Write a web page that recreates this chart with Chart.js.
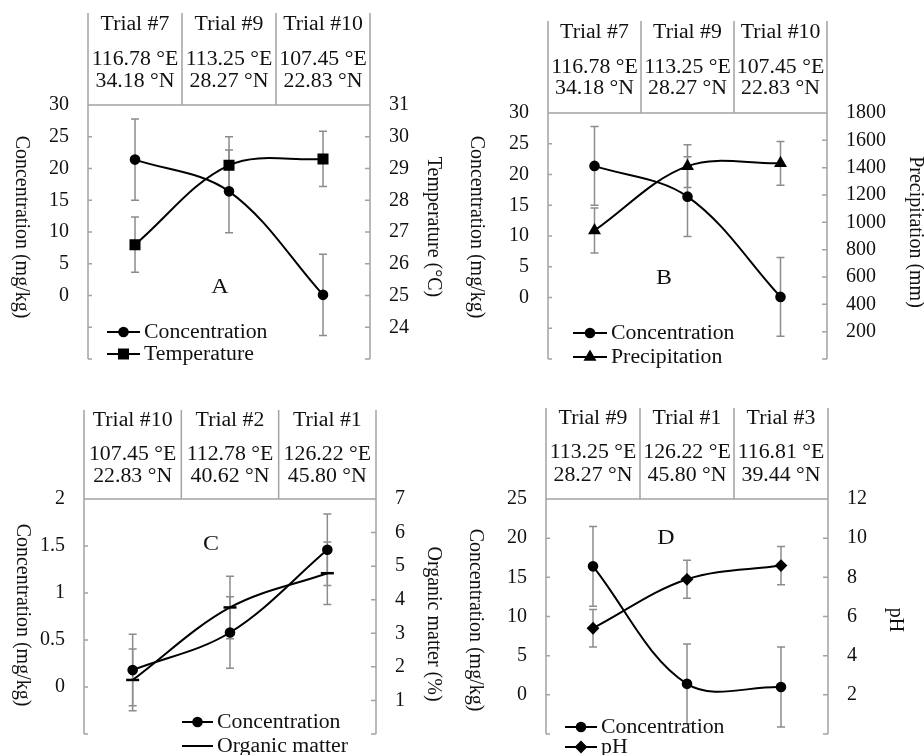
<!DOCTYPE html>
<html>
<head>
<meta charset="utf-8">
<script src="https://cdn.jsdelivr.net/npm/chart.js@4.4.1/dist/chart.umd.min.js"></script>
<style>
  html, body { margin: 0; padding: 0; background: #fff; overflow: hidden; }
  body { width: 924px; height: 755px; position: relative; }
  canvas { position: absolute; }
</style>
</head>
<body>
<canvas id="panel-a" width="460" height="390" style="left:0;top:0"></canvas>
<canvas id="panel-b" width="464" height="390" style="left:460px;top:0"></canvas>
<canvas id="panel-c" width="460" height="375" style="left:0;top:390px"></canvas>
<canvas id="panel-d" width="464" height="375" style="left:460px;top:390px"></canvas>
<script>
// --- data ---
const trialsAB = ['Trial #7', 'Trial #9', 'Trial #10'];
const eastAB = ['116.78 °E', '113.25 °E', '107.45 °E'];
const northAB = ['34.18 °N', '28.27 °N', '22.83 °N'];

const concA = [21.4, 16.4, 0.1];
const concErrA = [6.4, 6.5, 6.4];
const tempA = [26.6, 29.1, 29.3];
const tempErrA = [0.87, 0.9, 0.87];

const concB = [21.4, 16.4, 0.1];
const concErrB = [6.4, 6.5, 6.4];
const precipB = [940, 1411, 1432];
const precipErrB = [165, 157, 160];

const trialsC = ['Trial #10', 'Trial #2', 'Trial #1'];
const eastC = ['107.45 °E', '112.78 °E', '126.22 °E'];
const northC = ['22.83 °N', '40.62 °N', '45.80 °N'];
const concC = [0.18, 0.58, 1.46];
const concErrC = [0.38, 0.38, 0.38];
const organicC = [1.61, 3.77, 4.79];
const organicErrC = [0.92, 0.93, 0.93];

const trialsD = ['Trial #9', 'Trial #1', 'Trial #3'];
const eastD = ['113.25 °E', '126.22 °E', '116.81 °E'];
const northD = ['28.27 °N', '45.80 °N', '39.44 °N'];
const concD = [16.4, 1.4, 1.0];
const concErrD = [5.1, 5.1, 5.1];
const phD = [5.4, 7.9, 8.6];
const phErrD = [0.96, 0.97, 0.98];

// tick labels that are printed (other ticks only get a mark)
const concTicksAB = [0, 5, 10, 15, 20, 25, 30];
const tempTicks = [24, 25, 26, 27, 28, 29, 30, 31];
const precipTicks = [200, 400, 600, 800, 1000, 1200, 1400, 1600, 1800];
const concTicksC = [0, 0.5, 1, 1.5, 2];
const organicTicks = [1, 2, 3, 4, 5, 6, 7];
const concTicksD = [0, 5, 10, 15, 20, 25];
const phTicks = [2, 4, 6, 8, 10, 12];

const FONT = "'Liberation Serif', 'Times New Roman', serif";
const FRAME = '#a3a3a3';
const ERRBAR = '#8c8c8c';
const STRETCH = 1.09;   // the scanned figure is a little wider than tall

// text drawn a bit wider, like the source
const wideText = (ctx, text, x, y) => {
    ctx.save();
    ctx.translate(x, y);
    ctx.scale(STRETCH, 1);
    ctx.fillText(text, 0, 0);
    ctx.restore();
};

const panelPlugin = {
    id: 'panel',
    beforeDatasetsDraw(chart, args, opts) {
        const ctx = chart.ctx;
        const x = chart.scales.x;
        ctx.save();
        ctx.strokeStyle = ERRBAR;
        ctx.lineWidth = 1.5;
        chart.data.datasets.forEach(ds => {
            const y = chart.scales[ds.yAxisID];
            ds.data.forEach((v, i) => {
                const px = x.getPixelForValue(i);
                const top = y.getPixelForValue(v + ds.err[i]);
                const bot = y.getPixelForValue(v - ds.err[i]);
                ctx.beginPath();
                ctx.moveTo(px, top); ctx.lineTo(px, bot);
                ctx.moveTo(px - 4, top); ctx.lineTo(px + 4, top);
                ctx.moveTo(px - 4, bot); ctx.lineTo(px + 4, bot);
                ctx.stroke();
            });
        });
        ctx.restore();
    },
    afterDraw(chart, args, opts) {
        const ctx = chart.ctx;
        const ca = chart.chartArea;
        const w = ca.right - ca.left;
        const headTop = ca.top - opts.head[0];
        ctx.save();

        // frame + header grid
        ctx.strokeStyle = FRAME;
        ctx.lineWidth = 1.5;
        ctx.beginPath();
        ctx.moveTo(ca.left, headTop); ctx.lineTo(ca.left, ca.bottom);
        ctx.moveTo(ca.right, headTop); ctx.lineTo(ca.right, ca.bottom);
        ctx.moveTo(ca.left, ca.top); ctx.lineTo(ca.right, ca.top);
        [1, 2].forEach(k => {
            ctx.moveTo(ca.left + w * k / 3, headTop);
            ctx.lineTo(ca.left + w * k / 3, ca.top);
        });
        // inward tick marks
        chart.scales.yL.ticks.forEach(t => {
            const py = chart.scales.yL.getPixelForValue(t.value);
            ctx.moveTo(ca.left, py); ctx.lineTo(ca.left + 4, py);
        });
        chart.scales.yR.ticks.forEach(t => {
            const py = chart.scales.yR.getPixelForValue(t.value);
            ctx.moveTo(ca.right - 5, py); ctx.lineTo(ca.right, py);
        });
        ctx.stroke();

        // header text
        ctx.fillStyle = '#111';
        ctx.textAlign = 'center';
        ctx.textBaseline = 'middle';
        ctx.font = `20px ${FONT}`;
        opts.trials.forEach((t, i) => {
            const cx = chart.scales.x.getPixelForValue(i);
            wideText(ctx, t, cx, ca.top - opts.head[1]);
            wideText(ctx, opts.east[i], cx, ca.top - opts.head[2]);
            wideText(ctx, opts.north[i], cx, ca.top - opts.head[3]);
        });

        // axis titles, both turned clockwise
        opts.titles.forEach(tt => {
            ctx.save();
            ctx.translate(tt.x, tt.y);
            ctx.rotate(Math.PI / 2);
            ctx.fillText(tt.text, 0, 0);
            ctx.restore();
        });

        // panel letter
        ctx.font = `22px ${FONT}`;
        wideText(ctx, opts.letter.text, opts.letter.x, opts.letter.y);

        // legend
        const lg = opts.legend;
        ctx.font = `20px ${FONT}`;
        ctx.textAlign = 'left';
        chart.data.datasets.forEach((ds, i) => {
            const ly = lg.rows[i];
            ctx.strokeStyle = '#000';
            ctx.lineWidth = 2;
            ctx.beginPath();
            ctx.moveTo(lg.x0, ly); ctx.lineTo(lg.x1, ly);
            ctx.stroke();
            ctx.fillStyle = '#000';
            Chart.helpers.drawPoint(ctx, {
                pointStyle: ds.pointStyle, radius: ds.pointRadius, rotation: 0, borderWidth: 2.5
            }, (lg.x0 + lg.x1) / 2, ly);
            ctx.fillStyle = '#111';
            wideText(ctx, ds.label, lg.x1 + 4, ly + 1);
        });
        ctx.restore();
    }
};

const makeSeries = (label, data, err, axis, style, radius) => ({
    label, data, err,
    yAxisID: axis,
    borderColor: '#000',
    backgroundColor: '#000',
    borderWidth: 2,
    tension: 0.35,
    pointStyle: style,
    pointRadius: radius,
    pointBorderWidth: style === 'line' ? 2.5 : 2,
    pointBackgroundColor: '#000',
    pointBorderColor: '#000'
});

const makeAxis = (pos, min, max, step, shown, width) => ({
    position: pos,
    min, max,
    afterFit: scale => { scale.width = width; },
    grid: { display: false, drawTicks: false },
    border: { display: false },
    ticks: {
        stepSize: step,
        autoSkip: false,
        padding: 19,
        color: '#111',
        font: { family: FONT, size: 20 },
        callback: v => shown.some(s => Math.abs(s - v) < 1e-6) ? String(v) : ''
    }
});

const makePanel = (id, p) => new Chart(document.getElementById(id), {
    type: 'line',
    data: {
        labels: p.trials,
        datasets: [
            makeSeries('Concentration', p.conc, p.concErr, 'yL', 'circle', 4.3),
            makeSeries(p.name, p.other, p.otherErr, 'yR', p.style, p.radius)
        ]
    },
    options: {
        responsive: false,
        animation: false,
        devicePixelRatio: 1,
        layout: { padding: { top: p.top, bottom: p.bottom, left: 0, right: 0 } },
        plugins: {
            legend: { display: false },
            tooltip: { enabled: false },
            panel: {
                trials: p.trials, east: p.east, north: p.north,
                head: p.head, titles: p.titles, letter: p.letter, legend: p.legend
            }
        },
        scales: {
            x: { type: 'category', display: false, offset: true },
            yL: makeAxis('left', p.left[0], p.left[1], p.left[2], p.leftShown, p.leftW),
            yR: makeAxis('right', p.right[0], p.right[1], p.right[2], p.rightShown, p.rightW)
        }
    },
    plugins: [panelPlugin]
});

makePanel('panel-a', {
    trials: trialsAB, east: eastAB, north: northAB,
    conc: concA, concErr: concErrA,
    name: 'Temperature', other: tempA, otherErr: tempErrA, style: 'rect', radius: 6.4,
    left: [-10, 30, 5], leftShown: concTicksAB, leftW: 88,
    right: [23, 31, 1], rightShown: tempTicks, rightW: 90,
    top: 105, bottom: 13,
    head: [92, 80, 45, 23],
    titles: [
        { text: 'Concentration (mg/kg)', x: 21, y: 227 },
        { text: 'Temperature (°C)', x: 433, y: 227 }
    ],
    letter: { text: 'A', x: 220, y: 287 },
    legend: { x0: 107, x1: 140, rows: [332, 354] }
});

makePanel('panel-b', {
    trials: trialsAB, east: eastAB, north: northAB,
    conc: concB, concErr: concErrB,
    name: 'Precipitation', other: precipB, otherErr: precipErrB, style: 'triangle', radius: 5.5,
    left: [-10, 30, 5], leftShown: concTicksAB, leftW: 88,
    right: [0, 1800, 200], rightShown: precipTicks, rightW: 97,
    top: 113, bottom: 13,
    head: [92, 80, 45, 24],
    titles: [
        { text: 'Concentration (mg/kg)', x: 16, y: 227 },
        { text: 'Precipitation (mm)', x: 455, y: 232 }
    ],
    letter: { text: 'B', x: 204, y: 278 },
    legend: { x0: 113, x1: 147, rows: [333, 357] }
});

makePanel('panel-c', {
    trials: trialsC, east: eastC, north: northC,
    conc: concC, concErr: concErrC,
    name: 'Organic matter', other: organicC, otherErr: organicErrC, style: 'line', radius: 6.5,
    left: [-0.5, 2, 0.5], leftShown: concTicksC, leftW: 84,
    right: [0, 7, 1], rightShown: organicTicks, rightW: 84,
    top: 109, bottom: 6,
    head: [89, 78, 44, 22],
    titles: [
        { text: 'Concentration (mg/kg)', x: 22, y: 225 },
        { text: 'Organic matter (%)', x: 433, y: 234 }
    ],
    letter: { text: 'C', x: 211, y: 154 },
    legend: { x0: 182, x1: 213, rows: [332, 356] }
});

makePanel('panel-d', {
    trials: trialsD, east: eastD, north: northD,
    conc: concD, concErr: concErrD,
    name: 'pH', other: phD, otherErr: phErrD, style: 'rectRot', radius: 5,
    left: [-5, 25, 5], leftShown: concTicksD, leftW: 86,
    right: [0, 12, 2], rightShown: phTicks, rightW: 96,
    top: 109, bottom: 15,
    head: [91, 80, 46, 23],
    titles: [
        { text: 'Concentration (mg/kg)', x: 15, y: 230 },
        { text: 'pH', x: 435, y: 230 }
    ],
    letter: { text: 'D', x: 206, y: 148 },
    legend: { x0: 105, x1: 137, rows: [337, 357] }
});
</script>
</body>
</html>
